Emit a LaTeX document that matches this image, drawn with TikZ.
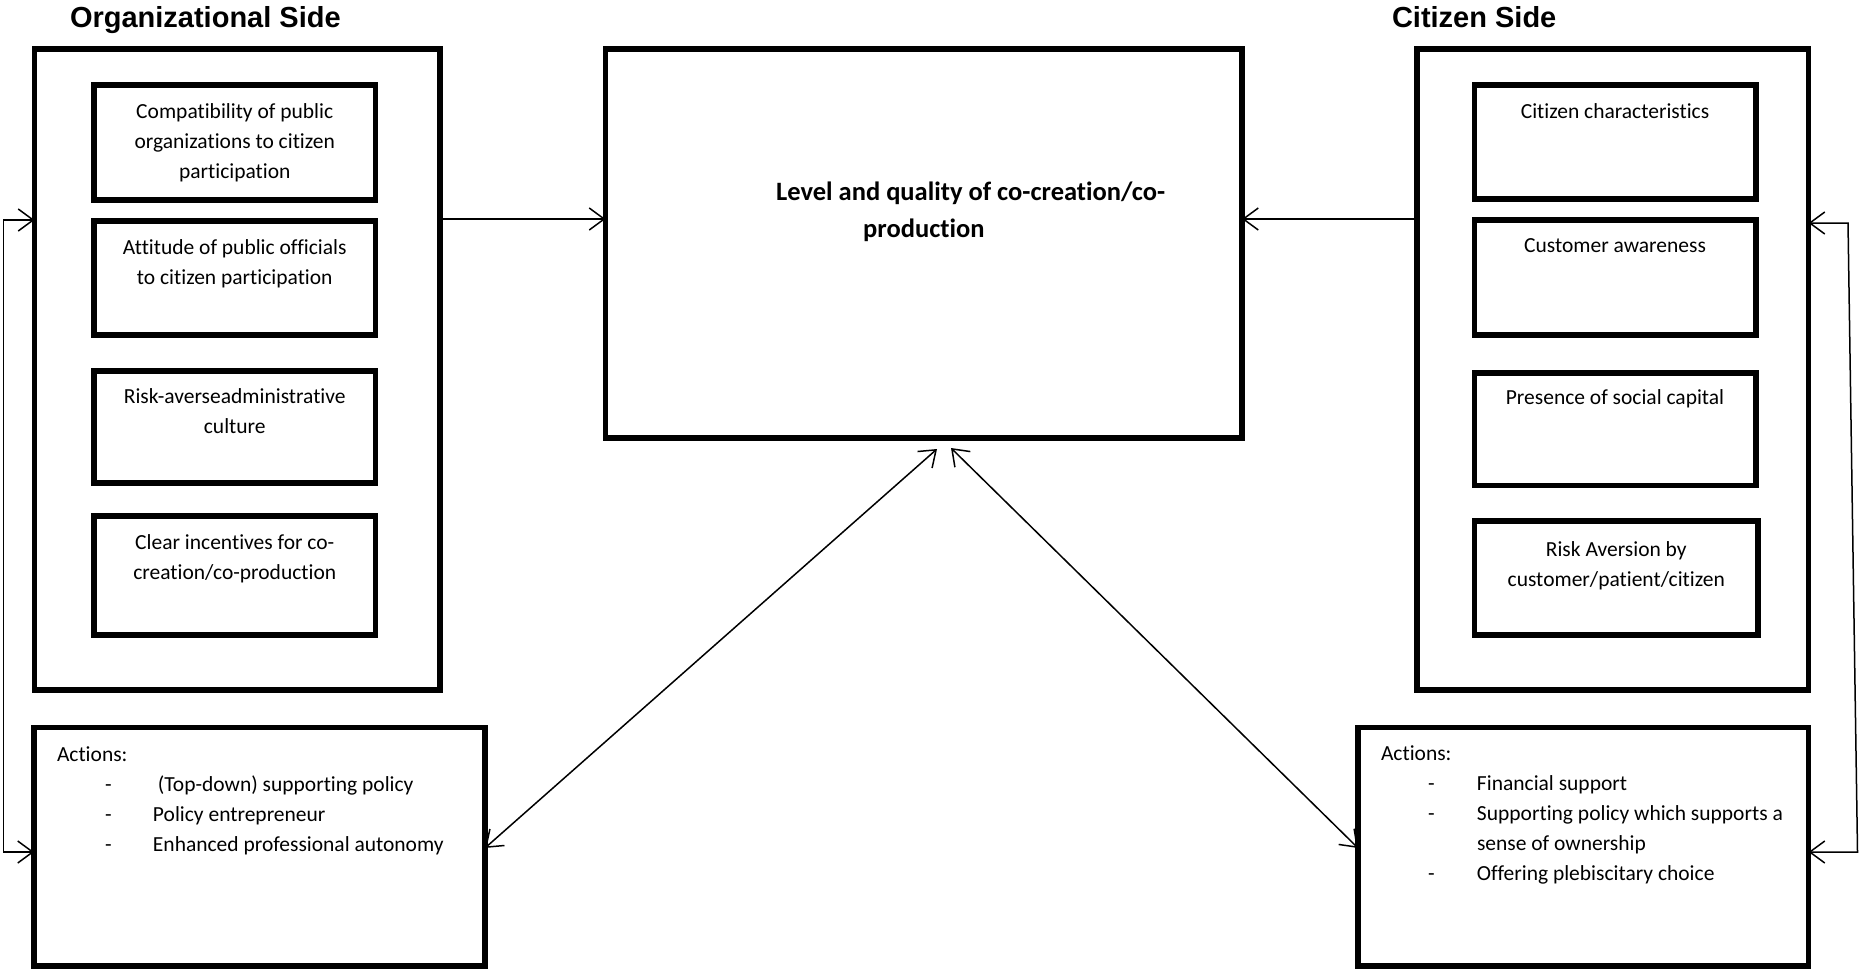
\documentclass[tikz,border=0pt]{standalone}
\usepackage{fontspec}
\setmainfont{Carlito}[Ligatures={NoCommon,NoRare}]
\newfontfamily\titlefont{Liberation Sans}
\usetikzlibrary{arrows.meta,calc}
\tikzset{
  box/.style={draw, line width=5.5pt, inner sep=0pt, outer sep=0pt, rectangle},
  txt/.style={inner sep=0pt, outer sep=0pt, font=\fontsize{21.5}{30}\selectfont},
  ttl/.style={inner sep=0pt, outer sep=0pt, font=\titlefont\bfseries\fontsize{29}{34}\selectfont},
  arr/.style={line width=1.5pt, -{Straight Barb[length=15pt,width=22pt]}},
  arrboth/.style={line width=1.5pt, {Straight Barb[length=15pt,width=22pt]}-{Straight Barb[length=15pt,width=22pt]}},
}
\newcommand\boxtext[1]{\parbox[t]{270pt}{\centering #1}}
\begin{document}
\begin{tikzpicture}[x=1pt,y=-1pt]
\fill[white] (0,0) rectangle (1859,970);
\useasboundingbox (0,0) rectangle (1859,970);

% titles
\node[ttl, anchor=base west] (tOrg) at (70,27) {Organizational Side};
\node[ttl, anchor=base west] (tCit) at (1392,27) {Citizen Side};

% organizational side
\node[box, minimum width=405.5pt, minimum height=641pt] (LO) at (237.25,369.5) {};
\node[box, minimum width=281.5pt, minimum height=115pt] (L1) at (234.75,142.5) {};
\node[box, minimum width=281.5pt, minimum height=114pt] (L2) at (234.75,278) {};
\node[box, minimum width=281.5pt, minimum height=112pt] (L3) at (234.75,427) {};
\node[box, minimum width=281.5pt, minimum height=119pt] (L4) at (234.75,575.5) {};
\node[txt, anchor=base] (L1t) at ([yshift=-33.5pt]L1.north) {\boxtext{Compatibility of public\\organizations to citizen\\participation}};
\node[txt, anchor=base] (L2t) at ([yshift=-33.5pt]L2.north) {\boxtext{Attitude of public officials\\to citizen participation}};
\node[txt, anchor=base] (L3t) at ([yshift=-32.5pt]L3.north) {\boxtext{Risk-averseadministrative\\culture}};
\node[txt, anchor=base] (L4t) at ([yshift=-33.5pt]L4.north) {\boxtext{Clear incentives for co-\\creation/co-production}};

\node[box, minimum width=451pt, minimum height=238.5pt] (LA) at (259.5,846.75) {};
\node[txt, anchor=base west] (LAt) at (57,761) {\parbox[t]{420pt}{Actions:\\
\hspace*{48pt}\makebox[48pt][l]{-}\ (Top-down) supporting policy\\
\hspace*{48pt}\makebox[48pt][l]{-}Policy entrepreneur\\
\hspace*{48pt}\makebox[48pt][l]{-}Enhanced professional autonomy}};

% centre
\node[box, minimum width=636.5pt, minimum height=389pt] (C) at (923.75,243.5) {};
\node[inner sep=0pt, anchor=base west, font=\bfseries\fontsize{26.5}{37}\selectfont] (Ct) at (776,200)
  {\parbox[t]{460pt}{Level and quality of co-creation/co-\\\hspace*{87pt}production}};

% citizen side
\node[box, minimum width=391.5pt, minimum height=641pt] (RO) at (1612.75,369.5) {};
\node[box, minimum width=281.5pt, minimum height=114pt] (R1) at (1615,142) {};
\node[box, minimum width=281.5pt, minimum height=115pt] (R2) at (1615,277.5) {};
\node[box, minimum width=281.5pt, minimum height=112.5pt] (R3) at (1615,429.25) {};
\node[box, minimum width=283.5pt, minimum height=114pt] (R4) at (1616.25,578) {};
\node[txt, anchor=base] (R1t) at ([yshift=-33pt]R1.north) {\boxtext{Citizen characteristics}};
\node[txt, anchor=base] (R2t) at ([yshift=-32pt]R2.north) {\boxtext{Customer awareness}};
\node[txt, anchor=base] (R3t) at ([yshift=-31.5pt]R3.north) {\boxtext{Presence of social capital}};
\node[txt, anchor=base] (R4t) at ([yshift=-35pt]R4.north) {\boxtext{Risk Aversion by\\customer/patient/citizen}};

\node[box, minimum width=450.5pt, minimum height=238.5pt] (RA) at (1583.25,846.75) {};
\node[txt, anchor=base west] (RAt) at (1381,760) {\parbox[t]{420pt}{Actions:\\
\hspace*{47pt}\makebox[49pt][l]{-}Financial support\\
\hspace*{47pt}\makebox[49pt][l]{-}Supporting policy which supports a\\
\hspace*{96pt}sense of ownership\\
\hspace*{47pt}\makebox[49pt][l]{-}Offering plebiscitary choice}};

% helper coordinates
\coordinate (yA) at (0,219);
\coordinate (fbl1) at (3.5,220);
\coordinate (fbl2) at (3.5,852);
\coordinate (fbr1) at (1848,223);
\coordinate (fbr2) at (1857.5,852);
\coordinate (yD) at (0,848);
\coordinate (dtl) at ($(C.south)+(13.25,11)$);
\coordinate (dtr) at ($(C.south)+(27.25,10)$);

% connectors
\draw[arr] (LO.east |- yA) -- (C.west |- yA);
\draw[arr] (RO.west |- yA) -- (C.east |- yA);
\draw[arrboth] (LO.west |- fbl1) -- (fbl1) -- (fbl2) -- (LA.west |- fbl2);
\draw[arrboth] (RO.east |- fbr1) -- (fbr1) -- (fbr2) -- (RA.east |- fbr2);
\draw[arrboth] (LA.east |- yD) -- (dtl);
\draw[arrboth] (RA.west |- yD) -- (dtr);
\end{tikzpicture}
\end{document}
